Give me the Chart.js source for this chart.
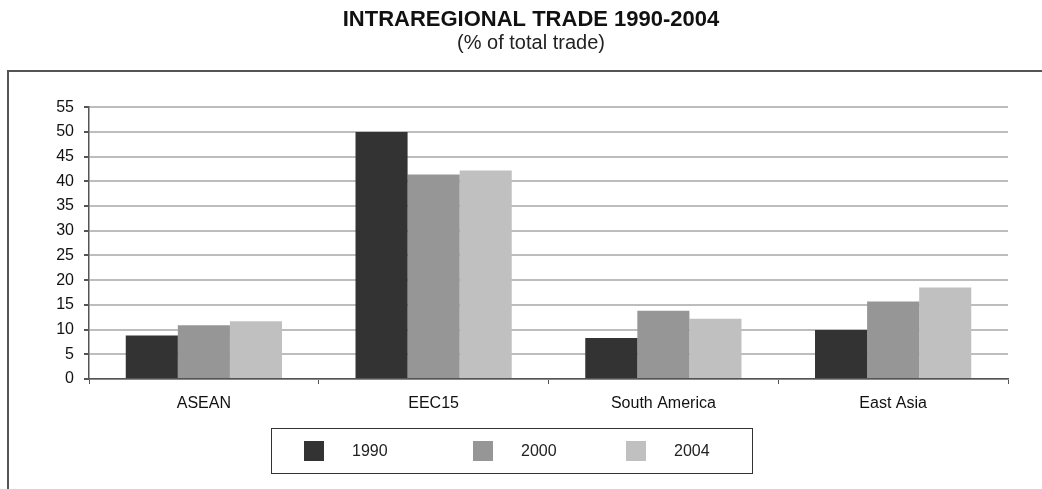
<!DOCTYPE html>
<html>
<head>
<meta charset="utf-8">
<script src="https://cdn.jsdelivr.net/npm/chart.js@4.4.0/dist/chart.umd.min.js"></script>
<style>
  body { margin: 0; background: #fff; font-family: "Liberation Sans", Arial, sans-serif; }
  #wrap { position: relative; width: 1042px; height: 489px; overflow: hidden; }
  #frame { position: absolute; left: 7px; top: 70px; width: 1100px; height: 500px; border: 2px solid #555; }
  canvas { position: absolute; left: 0; top: 0; }
  #legend { position: absolute; left: 271px; top: 428px; width: 482px; height: 46px; box-sizing: border-box;
            border: 1.5px solid #333; display: flex; align-items: center; padding-left: 32px; }
  .item { display: flex; align-items: center; flex-shrink: 0; width: 153px; font-size: 16px; color: #222; }
  .item:first-child { width: 169px; }
  .sw { width: 20px; height: 20px; margin-right: 28px; }
</style>
</head>
<body>
<div id="wrap">
  <div id="frame"></div>
  <canvas id="chart" width="1042" height="489"></canvas>
  <div id="legend"></div>
</div>
<script>
// data
const regions = ['ASEAN', 'EEC15', 'South America', 'East Asia']
const years = ['1990', '2000', '2004']
const share1990 = [8.8, 50.0, 8.3, 9.9]
const share2000 = [10.9, 41.4, 13.8, 15.7]
const share2004 = [11.7, 42.2, 12.2, 18.5]
const yTicks = [0, 5, 10, 15, 20, 25, 30, 35, 40, 45, 50, 55]

const colors = ['#333333', '#969696', '#c0c0c0']
const series = [share1990, share2000, share2004]
const font = 'Liberation Sans, Arial, sans-serif'

// html legend with a box round it
const legend = document.getElementById('legend')
years.forEach((y, i) => {
  const item = document.createElement('div')
  item.className = 'item'
  item.innerHTML = '<span class="sw" style="background:' + colors[i] + '"></span><span>' + y + '</span>'
  legend.appendChild(item)
})

// eslint-disable-next-line no-unused-vars
const chart = new Chart(document.getElementById('chart'), {
  type: 'bar',
  data: {
    labels: regions,
    datasets: years.map((y, i) => ({
      label: y,
      data: series[i],
      backgroundColor: colors[i],
      borderWidth: 0,
      categoryPercentage: 0.68,
      barPercentage: 1.0,
    })),
  },
  options: {
    responsive: false,
    animation: false,
    // left padding pushes the title centre to the right like the original
    layout: { padding: { left: 54, right: 34, top: 0, bottom: 0 } },
    plugins: {
      legend: { display: false },
      tooltip: { enabled: false },
      title: {
        display: true,
        text: 'INTRAREGIONAL TRADE 1990-2004',
        color: '#111',
        font: { family: font, size: 22, weight: 'bold', lineHeight: 1.1 },
        padding: { top: 8, bottom: 0 },
      },
      subtitle: {
        display: true,
        text: '(% of total trade)',
        color: '#222',
        font: { family: font, size: 20, lineHeight: 1.0 },
        padding: { top: 1, bottom: 54 },
      },
    },
    scales: {
      x: {
        afterFit: (s) => { s.height = 110 },
        grid: { offset: true, drawOnChartArea: false, tickLength: 5, tickColor: '#555' },
        border: { color: '#555', width: 1.5 },
        ticks: { color: '#111', padding: 10, font: { family: font, size: 16 } },
      },
      y: {
        min: 0,
        max: 55,
        afterFit: (s) => { s.width = 35 },
        afterBuildTicks: (s) => { s.ticks = yTicks.map(v => ({ value: v })) },
        grid: { color: '#bdbdbd', lineWidth: 2, tickLength: 5, tickColor: '#555' },
        border: { color: '#555', width: 1.5 },
        ticks: { color: '#111', padding: 10, font: { family: font, size: 16 } },
      },
    },
  },
})
</script>
</body>
</html>
